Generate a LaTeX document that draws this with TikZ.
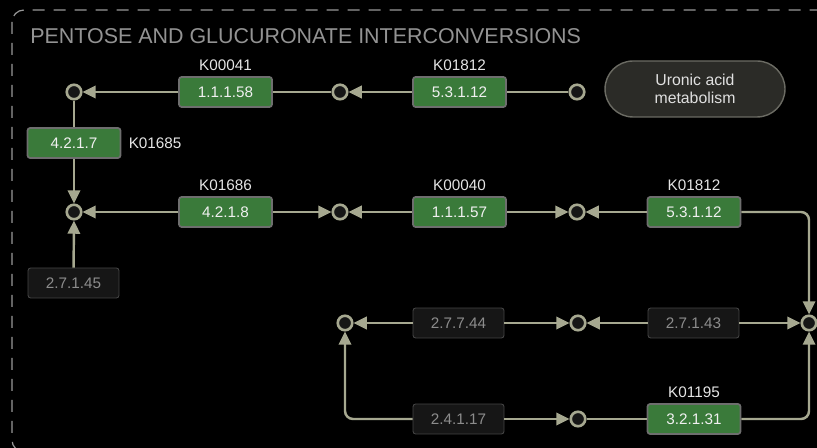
\documentclass[tikz,border=0pt]{standalone}
\usepackage{fontspec}
\setmainfont{Liberation Sans}
\usepackage{xcolor}
\usetikzlibrary{positioning, arrows.meta}
\definecolor{enzgreen}{RGB}{58,122,58}
\definecolor{edgegray}{RGB}{166,168,144}
\definecolor{boxline}{RGB}{110,110,110}
\definecolor{nomapfill}{RGB}{22,22,22}
\definecolor{nomaptext}{RGB}{140,140,140}
\definecolor{cpdfill}{RGB}{22,22,22}
\definecolor{pillfill}{RGB}{43,43,39}
\definecolor{pillline}{RGB}{107,107,99}
\tikzset{
    x=0.02cm, y=-0.02cm, % one unit is one pixel of the map
    enzyme/.style={draw=boxline, line width=1pt, fill=enzgreen, rounded corners=1.5pt,
        minimum width=1.86cm, minimum height=0.6cm, inner sep=0pt,
        text=white!94!black, font=\fontsize{8.7}{10}\selectfont}, % known enzyme
    nomap/.style={enzyme, draw=nomapfill!80!white, line width=0.5pt, fill=nomapfill,
        minimum width=1.82cm, text=nomaptext}, % enzyme not in the organism
    cpd/.style={circle, draw=edgegray, line width=1.5pt, fill=cpdfill,
        minimum size=0.29cm, inner sep=0pt}, % compound
    klabel/.style={text=white!90!black, font=\fontsize{8.7}{10}\selectfont, inner sep=1pt},
    pathway/.style={draw=pillline, line width=0.8pt, fill=pillfill, rounded corners=0.56cm,
        minimum width=3.6cm, minimum height=1.12cm, align=center,
        text=white!88!black, font=\fontsize{9}{10.4}\selectfont},
}
\tikzstyle{plain} = [draw=edgegray, line width=1.4pt]
\tikzstyle{link} = [plain, -{Triangle[length=7.5pt, width=7pt]}]

\begin{document}
\begin{tikzpicture}
    \fill[black] (0,0) rectangle (817,448);
    \useasboundingbox (0,0) rectangle (817,448);
    \begin{scope}
        \clip (0,0) rectangle (817,448);
        \draw[gray!80, line width=0.7pt, dash pattern=on 0.24cm off 0.18cm, rounded corners=0.24cm]
            (12,10) rectangle (860,452);
    \end{scope}
    \node[anchor=west, text=gray!85, font=\fontsize{12.2}{14}\selectfont, inner sep=0pt]
        (title) at (30,36) {PENTOSE AND GLUCURONATE INTERCONVERSIONS};

    % compounds
    \node[cpd] (c1) at (74,92) {};
    \node[cpd] (c2) at (340,92) {};
    \node[cpd] (c3) at (577,92) {};
    \node[cpd] (c4) at (74,212) {};
    \node[cpd] (c5) at (340,212) {};
    \node[cpd] (c6) at (577,212) {};
    \node[cpd] (c7) at (345,323) {};
    \node[cpd] (c8) at (578,323) {};
    \node[cpd] (c9) at (809,323) {};
    \node[cpd] (c10) at (578,419) {};

    % enzymes
    \node[enzyme] (e1) at (225.5,92) {1.1.1.58};
    \node[enzyme] (e2) at (459.5,92) {5.3.1.12};
    \node[enzyme] (e3) at (74,143) {4.2.1.7};
    \node[enzyme] (e4) at (225.5,212) {4.2.1.8};
    \node[enzyme] (e5) at (459.5,212) {1.1.1.57};
    \node[enzyme] (e6) at (694,212) {5.3.1.12};
    \node[nomap] (e7) at (73.5,283) {2.7.1.45};
    \node[nomap] (e8) at (458.5,323) {2.7.7.44};
    \node[nomap] (e9) at (693.5,323) {2.7.1.43};
    \node[nomap] (e10) at (458.5,419) {2.4.1.17};
    \node[enzyme] (e11) at (694,419) {3.2.1.31};

    % orthology labels
    \node[klabel, above=2pt of e1] (k1) {K00041};
    \node[klabel, above=2pt of e2] (k2) {K01812};
    \node[klabel, right=3pt of e3] (k3) {K01685};
    \node[klabel, above=2pt of e4] (k4) {K01686};
    \node[klabel, above=2pt of e5] (k5) {K00040};
    \node[klabel, above=2pt of e6] (k6) {K01812};
    \node[klabel, above=2pt of e11] (k11) {K01195};

    \node[pathway] (uronic) at (695,89) {Uronic acid\\metabolism};

    % reactions
    \draw[link] (e1) -- (c1);
    \draw[plain] (e1) -- (c2);
    \draw[link] (e2) -- (c2);
    \draw[plain] (e2) -- (c3);
    \draw[plain] (c1) -- (e3);
    \draw[link] (e3) -- (c4);
    \draw[link] (e4) -- (c4);
    \draw[link] (e4) -- (c5);
    \draw[link] (e5) -- (c5);
    \draw[link] (e5) -- (c6);
    \draw[link] (e6) -- (c6);
    \draw[link, rounded corners=0.16cm] (e6) -| (c9);
    \draw[link] (e7) -- (c4);
    \draw[link] (e8) -- (c7);
    \draw[link] (e8) -- (c8);
    \draw[link] (e9) -- (c8);
    \draw[link] (e9) -- (c9);
    \draw[link, rounded corners=0.16cm] (e10) -| (c7);
    \draw[link] (e10) -- (c10);
    \draw[plain] (c10) -- (e11);
    \draw[link, rounded corners=0.16cm] (e11) -| (c9);
\end{tikzpicture}
\end{document}
